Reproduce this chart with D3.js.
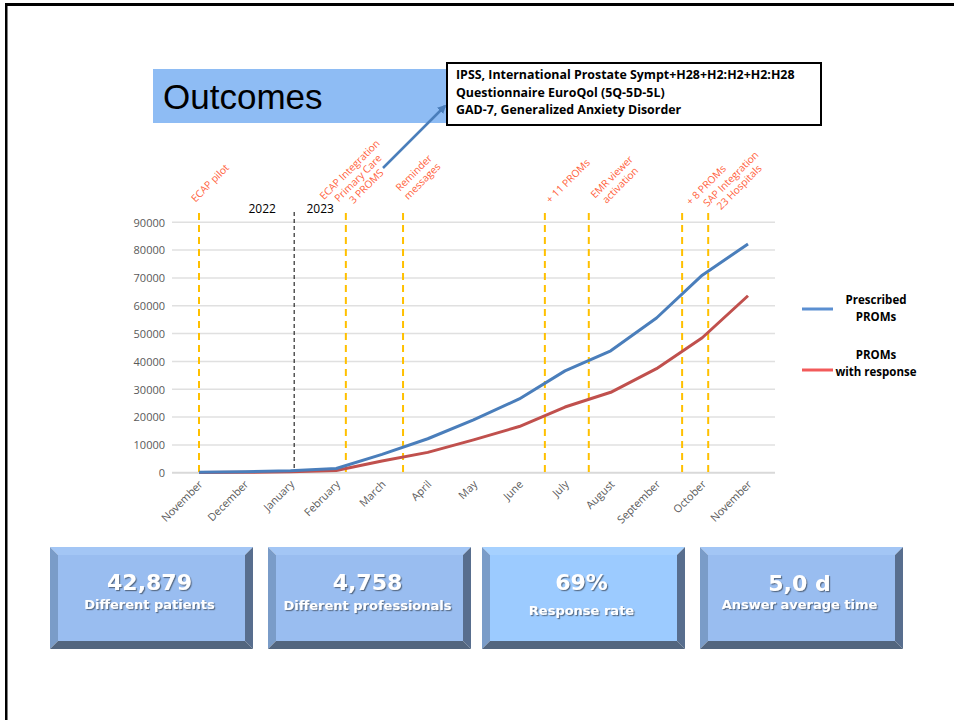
<!DOCTYPE html>
<html>
<head>
<meta charset="utf-8">
<script src="https://cdn.jsdelivr.net/npm/d3@7"></script>
<style>
  html, body { margin: 0; padding: 0; background: #fff; }
  svg { display: block; }
</style>
</head>
<body>
<script>
// ---- Data ----
const months = ["November","December","January","February","March","April","May","June","July","August","September","October","November"];
const prescribed = [200, 350, 700, 1500, 6600, 12200, 19000, 26500, 36600, 43800, 55600, 71000, 82200];
const withResponse = [100, 150, 350, 800, 4200, 7300, 11800, 16600, 23600, 28900, 37400, 48500, 63600];
const yTicks = [0, 10000, 20000, 30000, 40000, 50000, 60000, 70000, 80000, 90000];
const seriesNames = [["Prescribed", "PROMs"], ["PROMs", "with response"]];
// events: position as fractional month index, label lines
const eventPos = [0, 3.21, 4.46, 7.56, 8.52, 10.56, 11.13];
const eventLabels = [
  ["ECAP pilot"],
  ["ECAP Integration", "Primary Care", "3 PROMS"],
  ["Reminder", "messages"],
  ["+ 11 PROMs"],
  ["EMR viewer", "activation"],
  ["+ 8 PROMs"],
  ["SAP Integration", "23 Hospitals"]
];
const yearLabels = ["2022", "2023"];
const yearSplit = 2.08;
const noteLines = ["IPSS, International Prostate Sympt+H28+H2:H2+H2:H28", "Questionnaire EuroQol (5Q-5D-5L)", "GAD-7, Generalized Anxiety Disorder"];
const kpiValues = ["42,879", "4,758", "69%", "5,0 d"];
const kpiLabels = ["Different patients", "Different professionals", "Response rate", "Answer average time"];

// ---- Setup ----
const W = 954, H = 720;
const svg = d3.select("body").append("svg").attr("width", W).attr("height", H);

// frame
svg.append("rect").attr("x", 5).attr("y", 3).attr("width", W).attr("height", 3).attr("fill", "#000");
svg.append("rect").attr("x", 5).attr("y", 3).attr("width", 2.5).attr("height", H).attr("fill", "#000");

const x = d3.scaleLinear().domain([0, months.length - 1]).range([199, 748]);
const y = d3.scaleLinear().domain([0, 90000]).range([472.7, 222.3]);

// gridlines
const gridG = svg.append("g");
gridG.selectAll("line").data(yTicks).join("line")
  .attr("x1", 172).attr("x2", 775)
  .attr("y1", d => y(d)).attr("y2", d => y(d))
  .attr("stroke", d => d === 0 ? "#d9d9d9" : "#e0e0e0").attr("stroke-width", d => d === 0 ? 2 : 1.5);

// y axis labels
const yAxis = d3.axisLeft(y).tickValues(yTicks).tickSize(0).tickPadding(0).tickFormat(d3.format("d"));
const yg = svg.append("g").attr("transform", "translate(165,0)").call(yAxis);
yg.select(".domain").remove();
yg.selectAll("text").attr("font-family", "Open Sans, sans-serif").attr("font-size", 11).attr("fill", "#595959").attr("dy", "0.35em");

// x axis labels
const xAxis = d3.axisBottom(x).tickValues(d3.range(months.length)).tickSize(0).tickFormat(i => months[i]);
const xg = svg.append("g").attr("transform", "translate(0,473)").call(xAxis);
xg.select(".domain").remove();
xg.selectAll("text")
  .attr("font-family", "Open Sans, sans-serif").attr("font-size", 10.8).attr("fill", "#595959")
  .attr("text-anchor", "end").attr("dy", 0).attr("y", 0)
  .attr("transform", "translate(4,12) rotate(-45)");

// year separator
svg.append("line").attr("x1", x(yearSplit)).attr("x2", x(yearSplit)).attr("y1", 212).attr("y2", 473)
  .attr("stroke", "#000").attr("stroke-width", 1).attr("stroke-dasharray", "4,3");
svg.append("text").attr("x", x(yearSplit) - 32).attr("y", 213).attr("text-anchor", "middle")
  .attr("font-family", "Open Sans, sans-serif").attr("font-size", 12).attr("fill", "#000").text(yearLabels[0]);
svg.append("text").attr("x", x(yearSplit) + 26).attr("y", 213).attr("text-anchor", "middle")
  .attr("font-family", "Open Sans, sans-serif").attr("font-size", 12).attr("fill", "#000").text(yearLabels[1]);

// event lines
svg.append("g").selectAll("line").data(eventPos).join("line")
  .attr("x1", d => x(d)).attr("x2", d => x(d)).attr("y1", 213).attr("y2", 476)
  .attr("stroke", "#ffc000").attr("stroke-width", 2).attr("stroke-dasharray", "7,5");

// event labels (rotated)
const labelCenters = [[210,183],[358,178],[418,177],[568,181],[616,181],[706,185],[735,183]];
const lg = svg.append("g");
eventLabels.forEach((lines, i) => {
  const [cx, cy] = labelCenters[i];
  const g = lg.append("g").attr("transform", `translate(${cx},${cy}) rotate(-45)`);
  const lh = 11.8;
  const off = -(lines.length - 1) * lh / 2;
  lines.forEach((t, j) => {
    g.append("text").attr("x", 0).attr("y", off + j * lh).attr("dy", "0.35em")
      .attr("text-anchor", "middle").attr("font-family", "Open Sans, sans-serif")
      .attr("font-size", 10.2).attr("fill", "#ff5f3c").text(t);
  });
});

// lines
const line = d3.line().x((d, i) => x(i)).y(d => y(d));
svg.append("path").datum(withResponse).attr("d", line).attr("fill", "none")
  .attr("stroke", "#c0504d").attr("stroke-width", 3).attr("stroke-linejoin", "round");
svg.append("path").datum(prescribed).attr("d", line).attr("fill", "none")
  .attr("stroke", "#4a7ebb").attr("stroke-width", 3).attr("stroke-linejoin", "round");

// legend
const legColors = ["#5b8fd1", "#f25a5a"];
const legY = [309, 370];
seriesNames.forEach((lines, i) => {
  svg.append("line").attr("x1", 802).attr("x2", 833).attr("y1", legY[i]).attr("y2", legY[i])
    .attr("stroke", legColors[i]).attr("stroke-width", 3);
  lines.forEach((t, j) => {
    svg.append("text").attr("x", 876).attr("y", legY[i] - (i === 0 ? 5 : 11) + j * 16.5)
      .attr("text-anchor", "middle").attr("font-family", "Open Sans, sans-serif").attr("font-weight", "bold")
      .attr("font-size", 11.5).attr("fill", "#000").text(t);
  });
});

// title box
svg.append("rect").attr("x", 153).attr("y", 69).attr("width", 296).attr("height", 54).attr("fill", "#8ebcf4");
svg.append("text").attr("x", 163).attr("y", 109).attr("font-family", "Liberation Sans, Arial, sans-serif")
  .attr("font-size", 35).attr("fill", "#000").text("Outcomes");

// arrow
const defs = svg.append("defs");
defs.append("marker").attr("id", "arr").attr("viewBox", "0 0 10 10").attr("refX", 8).attr("refY", 5)
  .attr("markerWidth", 3.5).attr("markerHeight", 3.5).attr("orient", "auto")
  .append("path").attr("d", "M0,0 L10,5 L0,10 z").attr("fill", "#4a7ebb");
svg.append("line").attr("x1", 383).attr("y1", 168).attr("x2", 445).attr("y2", 106)
  .attr("stroke", "#4a7ebb").attr("stroke-width", 2.5).attr("marker-end", "url(#arr)");

// note box
svg.append("rect").attr("x", 447).attr("y", 63).attr("width", 374).attr("height", 62)
  .attr("fill", "#fff").attr("stroke", "#000").attr("stroke-width", 2);
noteLines.forEach((t, i) => {
  svg.append("text").attr("x", 456).attr("y", 79 + i * 17.5)
    .attr("font-family", "Open Sans, sans-serif").attr("font-weight", "bold").attr("font-size", 12.4)
    .attr("fill", "#000").text(t);
});

// KPI boxes
const boxX = [50, 268, 482, 700];
const bw = 203, bh = 102, by = 547, bv = 8;
const faces = ["#99bdf0", "#99bdf0", "#9ccbff", "#99bdf0"];
const filt = defs.append("filter").attr("id", "sh").attr("x", "-10%").attr("y", "-20%").attr("width", "130%").attr("height", "150%");
filt.append("feDropShadow").attr("dx", 1.2).attr("dy", 1.2).attr("stdDeviation", 0.6).attr("flood-color", "#4a5a70").attr("flood-opacity", 0.8);
const valY = [590, 590, 590, 591];
const labY = [609, 610, 615, 609];
boxX.forEach((bx, i) => {
  const g = svg.append("g");
  const x0 = bx, x1 = bx + bw, y0 = by, y1 = by + bh;
  // top bevel
  g.append("path").attr("d", `M${x0},${y0}L${x1},${y0}L${x1-bv},${y0+bv}L${x0+bv},${y0+bv}Z`).attr("fill", i === 2 ? "#a6d1ff" : "#a3c6f5");
  // left bevel
  g.append("path").attr("d", `M${x0},${y0}L${x0+bv},${y0+bv}L${x0+bv},${y1-bv}L${x0},${y1}Z`).attr("fill", "#7a9cc8");
  // right bevel
  g.append("path").attr("d", `M${x1},${y0}L${x1},${y1}L${x1-bv},${y1-bv}L${x1-bv},${y0+bv}Z`).attr("fill", "#586e8e");
  // bottom bevel
  g.append("path").attr("d", `M${x0},${y1}L${x0+bv},${y1-bv}L${x1-bv},${y1-bv}L${x1},${y1}Z`).attr("fill", "#53667f");
  // face
  g.append("rect").attr("x", x0 + bv).attr("y", y0 + bv).attr("width", bw - 2 * bv).attr("height", bh - 2 * bv).attr("fill", faces[i]);
  const cx = bx + bw / 2 - 2;
  g.append("text").attr("x", cx).attr("y", valY[i]).attr("text-anchor", "middle")
    .attr("font-family", "DejaVu Sans, sans-serif").attr("font-weight", "bold").attr("font-size", 22)
    .attr("fill", "#fff").attr("filter", "url(#sh)").text(kpiValues[i]);
  g.append("text").attr("x", cx).attr("y", labY[i]).attr("text-anchor", "middle")
    .attr("font-family", "DejaVu Sans, sans-serif").attr("font-weight", "bold").attr("font-size", 13)
    .attr("fill", "#fff").attr("filter", "url(#sh)").text(kpiLabels[i]);
});
</script>
</body>
</html>
